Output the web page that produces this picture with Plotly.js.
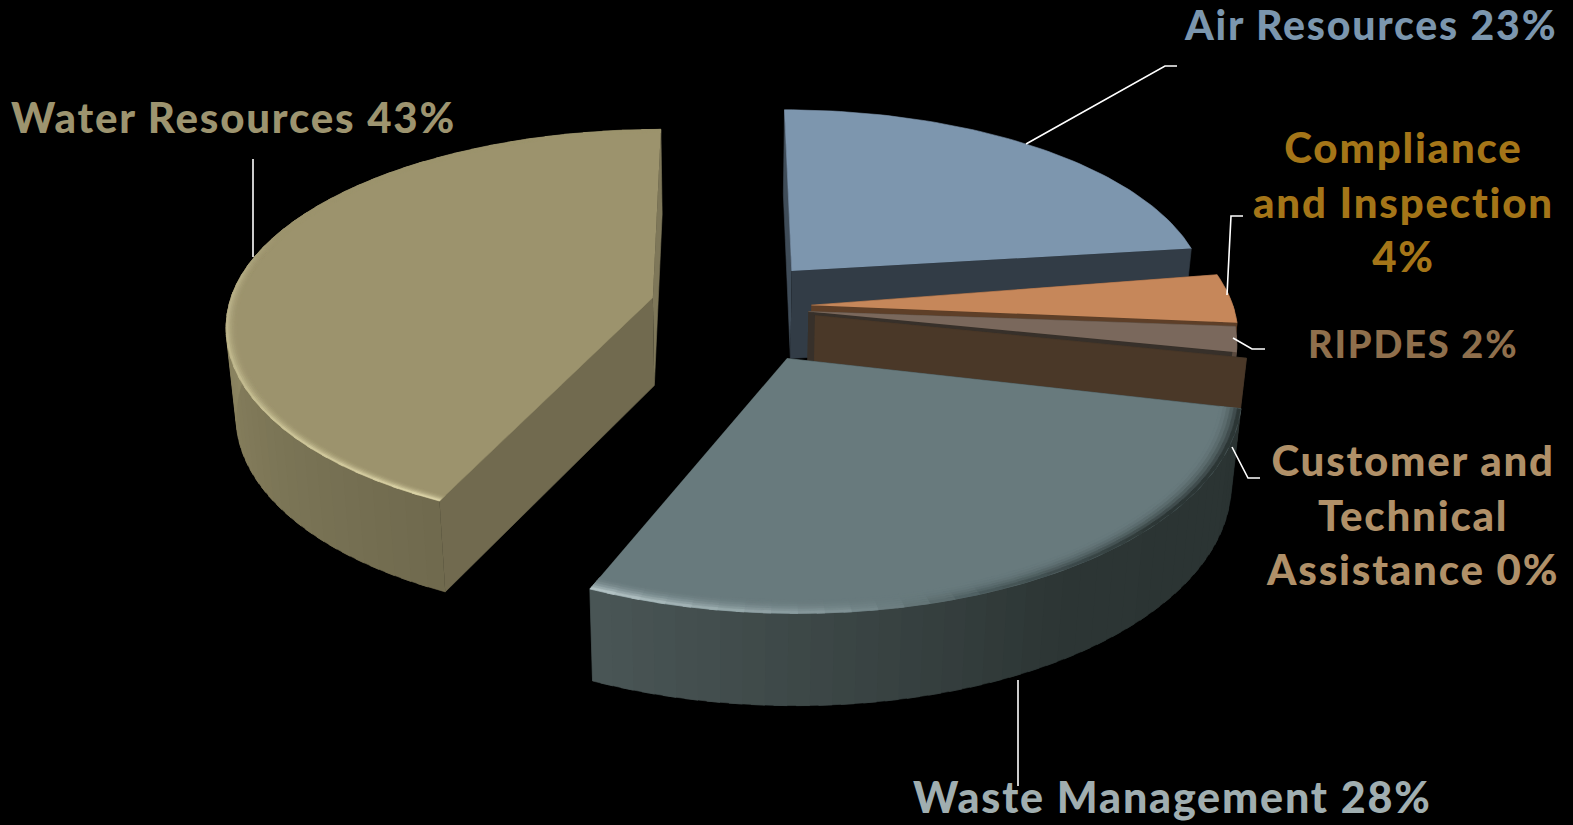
<!DOCTYPE html>
<html>
<head>
<meta charset="utf-8">
<script src="https://cdn.plot.ly/plotly-3.0.1.min.js"></script>
<style>
html,body{margin:0;padding:0;background:#000;overflow:hidden}
#chart{width:1573px;height:825px}
.annotation-text{letter-spacing:1.8px}
</style>
</head>
<body>
<div id="chart"></div>
<script>
// Budget shares by program, in drawing order clockwise from twelve o'clock
const categories = ["Air Resources", "Compliance and Inspection", "RIPDES",
  "Customer and Technical Assistance", "Waste Management", "Water Resources"];
const shares = [23, 4, 2, 0, 28, 43];
const labelLines = ["Air Resources 23%", "Compliance<br>and Inspection<br>4%", "RIPDES 2%",
  "Customer and<br>Technical<br>Assistance 0%", "Waste Management 28%", "Water Resources 43%"];

// Exploded offset of each wedge's apex on the pie plane, its small turn and its radius
const apexU = [0.162, 0.205, 0.197, 0.212, 0.142, -0.172];
const apexV = [-0.150, 0.026, 0.058, 0.078, 0.285, -0.012];
const turnDeg = [0, -2.2, -3, -2.6, -1.6, 0];
const radiusScale = [0.995, 1, 1, 1.005, 1.03, 1.006];
const bevelInner = [1, 1, 1, 1, 0.955, 0.975];

// Colours of the faces
const topColors = ["#7d96ae", "#c6875a", "#7a685c", "#4a3828", "#687a7d", "#9c936d"];
const endWallColors = ["#323c46", "#5e3f28", "#37302a", "#4a3828", "#2a3332", "#7e7759"];
const startWallColors = ["#3f4c58", "#5e3f28", "#3d3429", "#3d3429", "#2a3332", "#716a4f"];
const sideStops = [
  [[0, "#3a4652"], [1, "#323c46"]],
  [[0, "#5e3f28"], [1, "#5e3f28"]],
  [[0, "#5a4a3f"], [1, "#5a4a3f"]],
  [[0, "#4a3828"], [1, "#4a3828"]],
  [[0, "#2a3332"], [0.45, "#2c3534"], [1, "#4a5656"]],
  [[0, "#6f6a4e"], [0.3, "#837c5b"], [0.47, "#908964"], [1, "#908964"]]
];
// Bevel tint around the rim, by position along the arc
const bevelStops = [
  null, null, null, null,
  [[0, "#2c3635"], [0.3, "#2c3635"], [0.55, "#4a5a5c"], [0.72, "#7f9194"], [1, "#b4c4c6"]],
  [[0, "#dcd4a8"], [0.2, "#c8c094"], [0.45, "#b4ac84"], [0.55, "#9c936d"], [1, "#9c936d"]]
];
const labelColors = ["#7b96ae", "#a47518", "#8f6f4c", "#b09068", "#a0aeb0", "#9d946f"];
const labelSizes = [41, 42, 38, 42, 43, 42];
const labelX = [1370, 1403, 1413, 1412, 1172, 233];
const labelY = [24, 201, 343, 514, 796, 117];
const leaderX = [[1026, 1165, 1177], [1227, 1231, 1243], [1233, 1252, 1265], [1232, 1248, 1260], [1018, 1018], [253, 253]];
const leaderY = [[144, 66, 66], [295, 216, 216], [338, 349, 349], [447, 478, 478], [680, 786], [159, 257]];

// Perspective of the pie plane
const cx = 725, cy = 300, R = 420, S = 197.6, k = 0.13, depth = 88, farSquash = 0.955;

function project(u, v, drop) {
  const w = 1 - k * v;
  let x = cx + R * u / w;
  let y = cy + S * v / w;
  if (drop) {
    x = cx + (x - cx) * 0.98;
    y += depth + 25 * k * v;
  }
  return [x, y];
}
function hex(c) { return [1, 3, 5].map(i => parseInt(c.substr(i, 2), 16)); }
function mix(a, b, t) {
  const p = hex(a), q = hex(b);
  return "#" + p.map((n, i) => Math.round(n + (q[i] - n) * t).toString(16).padStart(2, "0")).join("");
}
function ramp(stops, t) {
  for (let i = 1; i < stops.length; i++) {
    if (t <= stops[i][0]) {
      const s = stops[i - 1], e = stops[i];
      return mix(s[1], e[1], (t - s[0]) / (e[0] - s[0] || 1));
    }
  }
  return stops[stops.length - 1][1];
}

const traces = [];
function poly(points, color) {
  traces.push({
    type: "scatter", mode: "lines", x: points.map(p => p[0]), y: points.map(p => p[1]),
    fill: "toself", fillcolor: color, line: {color: color, width: 0.6},
    hoverinfo: "skip", showlegend: false
  });
}

// Cumulative start of each wedge, in degrees
const total = shares.reduce((a, b) => a + b, 0);
let running = 0;
const wedges = shares.map((s, i) => {
  const a0 = running / total * 360 + turnDeg[i];
  running += s;
  return {i: i, a0: a0, a1: a0 + s / total * 360};
});

function rimPoint(w, a, rad, drop) {
  const t = a * Math.PI / 180, r = rad * radiusScale[w.i];
  const c = Math.cos(t);
  return project(apexU[w.i] + r * Math.sin(t), apexV[w.i] - r * c * (c > 0 ? farSquash : 1), drop);
}
function apexPoint(w, drop) { return project(apexU[w.i], apexV[w.i], drop); }

function drawWedge(w) {
  const i = w.i, sweep = w.a1 - w.a0;
  const steps = Math.max(1, Math.round(sweep / 2.5));
  // the two cut faces
  poly([apexPoint(w), rimPoint(w, w.a0, 1), rimPoint(w, w.a0, 1, true), apexPoint(w, true)], startWallColors[i]);
  poly([apexPoint(w), rimPoint(w, w.a1, 1), rimPoint(w, w.a1, 1, true), apexPoint(w, true)], endWallColors[i]);
  if (sweep <= 0) return;
  // outer wall in overlapping strips, only where it faces the viewer
  for (let s = 0; s < steps; s++) {
    const a = w.a0 + sweep * s / steps;
    const b = Math.min(w.a1, w.a0 + sweep * (s + 1.6) / steps);
    if (Math.cos((a + b) / 2 * Math.PI / 180) > 0.05) continue;
    poly([rimPoint(w, a, 1), rimPoint(w, b, 1), rimPoint(w, b, 1, true), rimPoint(w, a, 1, true)],
      ramp(sideStops[i], (s + 0.5) / steps));
  }
  // top face
  const face = [apexPoint(w)];
  for (let s = 0; s <= steps * 2; s++) face.push(rimPoint(w, w.a0 + sweep * s / (steps * 2), 1));
  poly(face, topColors[i]);
  // bevel along the rim
  if (bevelStops[i]) {
    const rings = 6, inner = bevelInner[i], segs = Math.round(sweep / 3);
    for (let r = 0; r < rings; r++) {
      const r0 = inner + (1 - inner) * r / rings, r1 = inner + (1 - inner) * (r + 1) / rings;
      const blend = Math.pow((r + 1) / rings, 2.2);
      for (let s = 0; s < segs; s++) {
        const a = w.a0 + sweep * s / segs, b = w.a0 + sweep * Math.min(segs, s + 1.3) / segs;
        poly([rimPoint(w, a, r0), rimPoint(w, b, r0), rimPoint(w, b, r1), rimPoint(w, a, r1)],
          mix(topColors[i], ramp(bevelStops[i], (s + 0.5) / segs), blend));
      }
    }
  }
}

// Back to front: far wedges first, Waste Management in front of its neighbours.
// The empty Customer and Technical Assistance wedge still shows its cut face.
[5, 0, 1, 2, 3, 4].forEach(i => drawWedge(wedges[i]));

// Leader lines
leaderX.forEach((xs, i) => {
  traces.push({type: "scatter", mode: "lines", x: xs, y: leaderY[i],
    line: {color: "#ffffff", width: 1.6}, hoverinfo: "skip", showlegend: false});
});

const annotations = categories.map((c, i) => ({
  xref: "x", yref: "y", x: labelX[i], y: labelY[i], text: labelLines[i],
  showarrow: false, xanchor: "center", yanchor: "middle", align: "center",
  font: {family: "Lato, 'Open Sans', sans-serif", size: labelSizes[i], weight: 900, color: labelColors[i]}
}));

Plotly.newPlot("chart", traces, {
  width: 1573, height: 825,
  margin: {l: 0, r: 0, t: 0, b: 0},
  paper_bgcolor: "#000000", plot_bgcolor: "#000000",
  xaxis: {range: [0, 1573], visible: false, fixedrange: true},
  yaxis: {range: [825, 0], visible: false, fixedrange: true},
  annotations: annotations, showlegend: false
}, {displayModeBar: false, staticPlot: true});
</script>
</body>
</html>
